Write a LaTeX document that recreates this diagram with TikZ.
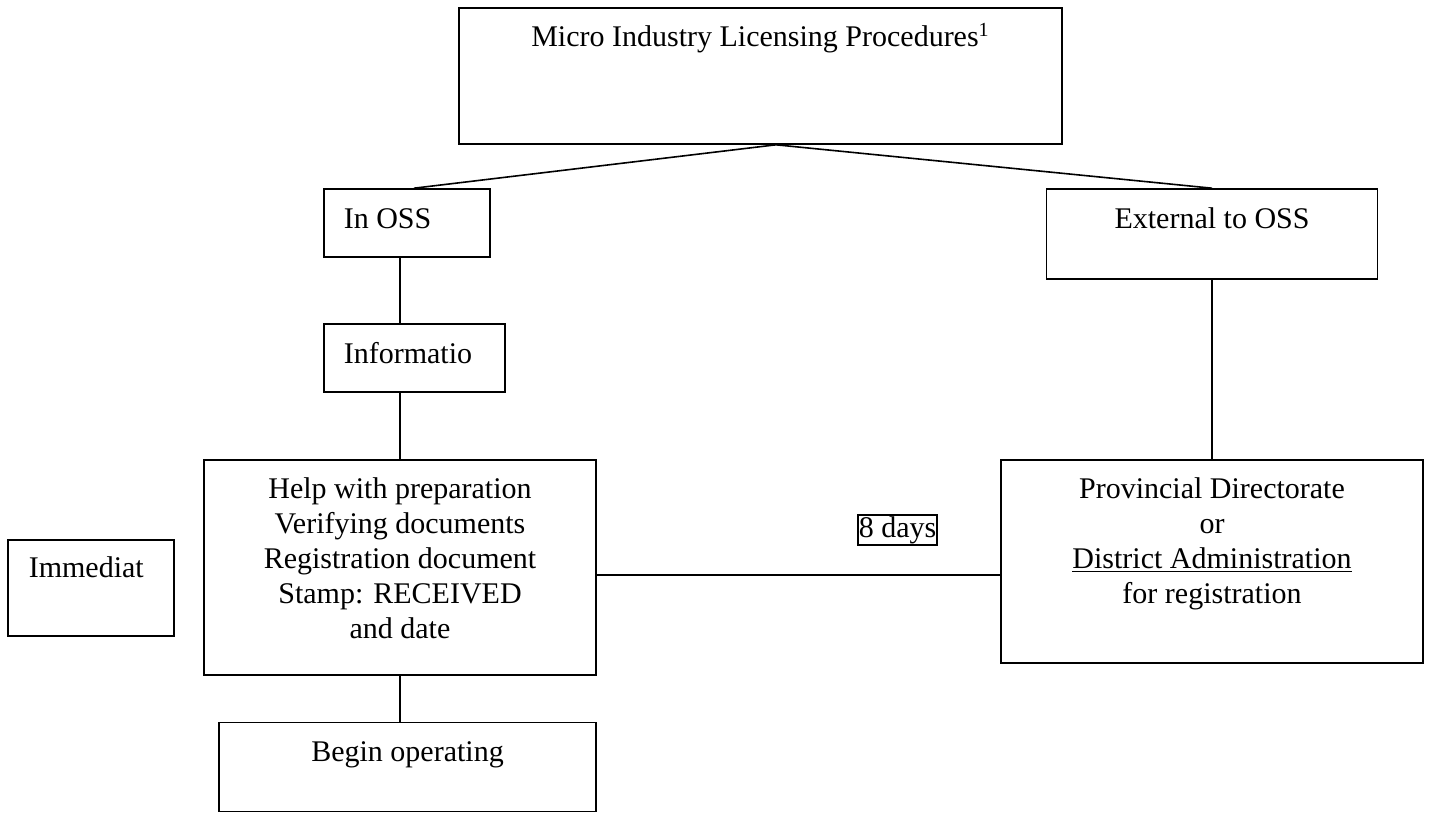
\documentclass[tikz,border=0pt]{standalone}
\usepackage{fontspec}
\setmainfont{Liberation Serif}
\usetikzlibrary{calc}

\begin{document}
\begin{tikzpicture}[x=0.5pt,y=-0.5pt,line width=0.8pt,
  box/.style={draw,rectangle,inner sep=0pt},
  txt/.style={inner sep=0pt,font=\fontsize{15pt}{17.5pt}\selectfont,align=center}]
\useasboundingbox (0,0) rectangle (1429,813);

\node[box,minimum width=301.5pt,minimum height=68pt] (top) at (760.5,76) {};
\node[box,minimum width=83pt,minimum height=34pt] (inoss) at (407,223) {};
\node[box,minimum width=165.5pt,minimum height=45pt] (ext) at (1212,234) {};
\node[box,minimum width=90.5pt,minimum height=34pt] (info) at (414.5,358) {};
\node[box,minimum width=196pt,minimum height=107.5pt] (help) at (400,567.5) {};
\node[box,minimum width=211pt,minimum height=101.5pt] (prov) at (1212,561.5) {};
\node[box,minimum width=83pt,minimum height=48pt] (immed) at (91,588) {};
\node[box,minimum width=188.5pt,minimum height=44.5pt] (begin) at (407.5,767) {};

\node[txt,anchor=base] (topT) at (760.5,47) {Micro Industry Licensing Procedures\textsuperscript{\fontsize{10pt}{10pt}\selectfont 1}};
\node[txt,anchor=base west] (inossT) at (343,228) {In OSS};
\node[txt,anchor=base] (extT) at (1212,228) {External to OSS};
\node[txt,anchor=base west] (infoT) at (343,363) {Informatio};
\node[txt,anchor=base] (helpT) at (400,638) {Help with preparation\\Verifying documents\\Registration document\\Stamp: RECEIVED\\and date};
\node[txt,anchor=base] (provT) at (1212,603) {Provincial Directorate\\or\\\underline{District Administration}\\for registration};
\node[txt,anchor=base west] (immedT) at (28,577) {Immediat};
\node[txt,anchor=base] (beginT) at (407.5,761) {Begin operating};
\node[txt,draw,line width=1pt,inner sep=0.6pt,anchor=base] (days) at (897.5,537) {8 days};

\draw ([xshift=7.75pt]top.south) -- ([xshift=3.5pt]inoss.north);
\draw ([xshift=7.75pt]top.south) -- (ext.north);
\draw (inoss.south -| help.north) -- (info.north -| help.north);
\draw (info.south -| help.north) -- (help.north);
\draw (help.south) -- (begin.north -| help.south);
\draw (ext.south) -- (prov.north);
\draw ([yshift=-3.75pt]help.east) -- ([yshift=-3.75pt]help.east -| prov.west);

\end{tikzpicture}
\end{document}
